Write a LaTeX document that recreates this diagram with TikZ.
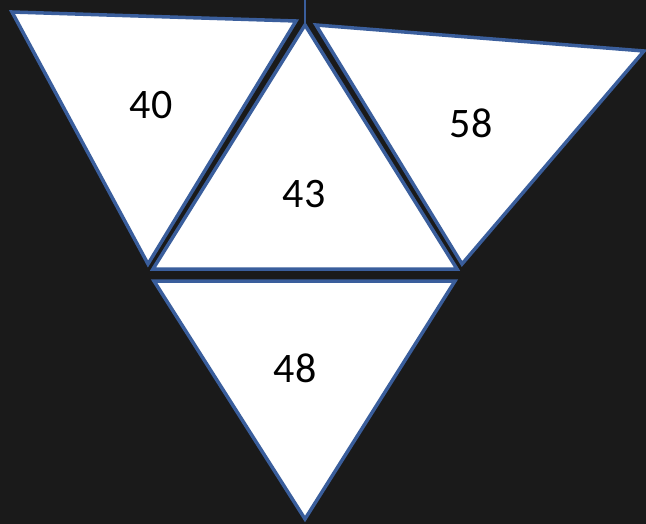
\documentclass[tikz,border=0pt]{standalone}
\usepackage{fontspec}
\setmainfont{Carlito}
\definecolor{bg}{HTML}{1A1A1A}
\definecolor{edge}{HTML}{3A5E9C}
\begin{document}
\begin{tikzpicture}[x=1pt,y=-1pt,
  tri/.style={draw=edge,fill=white,line width=3.5pt,line join=miter},
  num/.style={font=\fontsize{42}{42}\selectfont,text=black}]
\fill[bg] (0,0) rectangle (646,524);
\useasboundingbox (0,0) rectangle (646,524);
\coordinate (tick) at (305,0);
\coordinate (apex) at (305,25);
\draw[tri] (12,12) -- (296,21) -- (148,264) -- cycle;
\draw[tri] (316,25) -- (644,51) -- (462,264) -- cycle;
\draw[tri] (apex) -- (457,269) -- (153,269) -- cycle;
\draw[tri] (154,281) -- (455,281) -- (305,519) -- cycle;
\draw[edge,line width=2pt] (tick) -- (apex);
\node[num] (n40) at (151,105) {40};
\node[num] (n43) at (304,194) {43};
\node[num] (n58) at (471,123) {58};
\node[num] (n48) at (295,368) {48};
\end{tikzpicture}
\end{document}
